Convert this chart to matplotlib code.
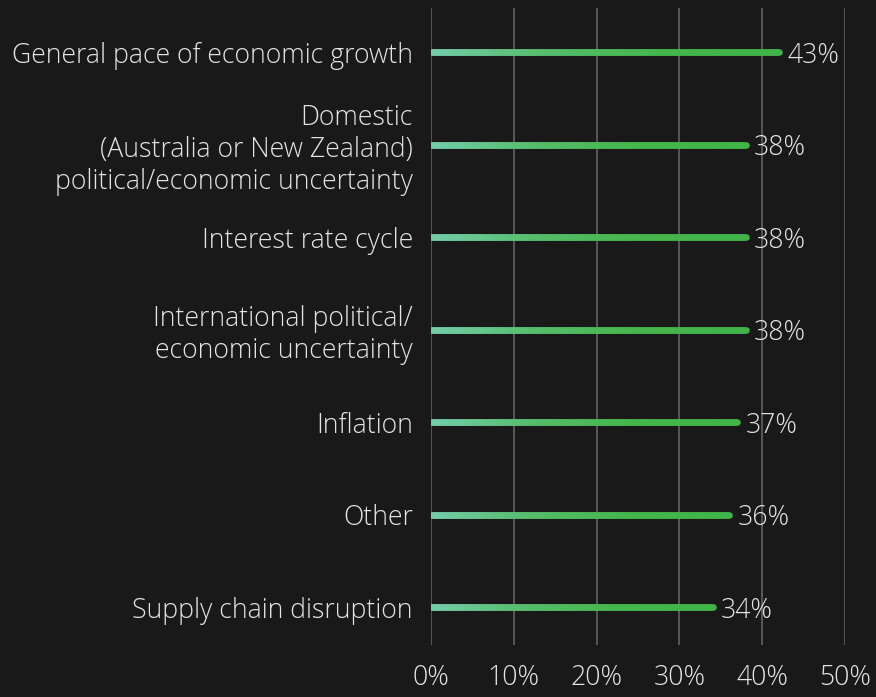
import numpy as np
import matplotlib.pyplot as plt
from matplotlib.collections import LineCollection
from matplotlib.colors import LinearSegmentedColormap

categories = ['General pace of economic growth',
              'Domestic\n(Australia or New Zealand)\npolitical/economic uncertainty',
              'Interest rate cycle',
              'International political/\neconomic uncertainty',
              'Inflation',
              'Other',
              'Supply chain disruption']
values = [42, 38, 38, 38, 37, 36, 34]
labels = ['43%', '38%', '38%', '38%', '37%', '36%', '34%']
xticks = [0, 10, 20, 30, 40, 50]

plt.rcParams['font.family'] = ['Open Sans', 'DejaVu Sans']

bg = '#191919'
txt = '#e4e4e4'
fs = 19.2
grad = LinearSegmentedColormap.from_list('g', ['#74cdaa', '#56bd6c', '#45b64c', '#40b449'])

fig = plt.figure(figsize=(8.76, 6.97), dpi=100, facecolor=bg)
ax = fig.add_axes([431 / 876, 1 - 645 / 697, 414 / 876, 637 / 697])
ax.set_facecolor(bg)

y = np.arange(len(categories))
for yi, v in zip(y, values):
    xs = np.linspace(0, v, 120)
    segs = [[(xs[i], yi), (xs[i + 1], yi)] for i in range(len(xs) - 1)]
    lc = LineCollection(segs, colors=grad(np.linspace(0, 1, len(segs))),
                        linewidths=4.8, capstyle='round', zorder=3)
    ax.add_collection(lc)

for yi, v, lab in zip(y, values, labels):
    ax.annotate(lab, (v, yi), xytext=(6, 0), textcoords='offset points',
                ha='left', va='center_baseline', color=txt, fontsize=fs,
                fontweight='light', zorder=4)

ax.set_xlim(0, 50)
ax.set_ylim(6.41, -0.476)
ax.set_xticks(xticks)
ax.set_xticklabels([f'{t}%' for t in xticks], color=txt, fontsize=fs, fontweight='light')
ax.set_yticks(y)
ax.set_yticklabels(categories, color=txt, fontsize=fs, fontweight='light',
                   ha='right', linespacing=1.2)
ax.tick_params(axis='y', length=0, pad=13)
ax.tick_params(axis='x', length=0, pad=14)
ax.grid(axis='x', color='#5c5c5c', linewidth=1.3, zorder=0)
for s in ax.spines.values():
    s.set_visible(False)

fig.savefig('out.png', dpi=100, facecolor=bg)
